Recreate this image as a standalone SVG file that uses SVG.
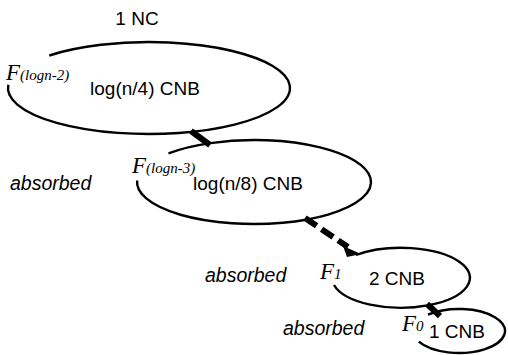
<svg xmlns="http://www.w3.org/2000/svg" width="508" height="355" viewBox="0 0 508 355">
<style>
.ell{fill:none;stroke:#000;stroke-width:2.4}
.lbl{font-family:"Liberation Sans",Arial,sans-serif;font-size:19px;fill:#000}
.abs{font-family:"Liberation Sans",Arial,sans-serif;font-size:19.5px;font-style:italic;fill:#000}
.F{font-family:"Liberation Serif","Times New Roman",serif;font-style:italic;fill:#000;font-size:23px}
.sub{font-size:15px}
.conn{stroke:#000;stroke-width:6;fill:none}
</style>
<rect width="508" height="355" fill="#fff"/>
<text class="lbl" x="137" y="25" text-anchor="middle">1 NC</text>
<g id="n1">
<path class="ell" d="M49.3,55.5 A141 46 0 1 1 8.3,84.8"/>
<text class="F" x="6" y="80">F<tspan class="sub">(logn-2)</tspan></text>
<text class="lbl" x="145" y="95" text-anchor="middle">log(n/4) CNB</text>
</g>
<g id="n2">
<path class="ell" d="M168.5,153.4 A117 42 0 1 1 137.1,180.5"/>
<text class="F" x="132" y="173">F<tspan class="sub">(logn-3)</tspan></text>
<text class="lbl" x="248" y="190" text-anchor="middle">log(n/8) CNB</text>
</g>
<g id="n3">
<path class="ell" d="M356,255 A69 30 0 1 1 334,285"/>
<text class="F" x="320" y="279">F<tspan class="sub">1</tspan></text>
<text class="lbl" x="397" y="285" text-anchor="middle">2 CNB</text>
</g>
<g id="n4">
<path class="ell" d="M428,314.7 A46 22 0 1 1 418.8,341.7"/>
<text class="F" x="402" y="331">F<tspan class="sub">0</tspan></text>
<text class="lbl" x="457" y="338" text-anchor="middle">1 CNB</text>
</g>
<text class="abs" x="10" y="190">absorbed</text>
<text class="abs" x="205" y="282">absorbed</text>
<text class="abs" x="283" y="335">absorbed</text>
<g id="connectors">
<line class="conn" x1="191" y1="131" x2="210" y2="145"/>
<line class="conn" x1="305" y1="218" x2="348" y2="247" stroke-dasharray="14 6" stroke-width="5"/>
<path d="M343,246 L361,254 L347,257 Z" fill="#000"/>
<line class="conn" x1="427" y1="304" x2="440" y2="316"/>
</g>
</svg>
